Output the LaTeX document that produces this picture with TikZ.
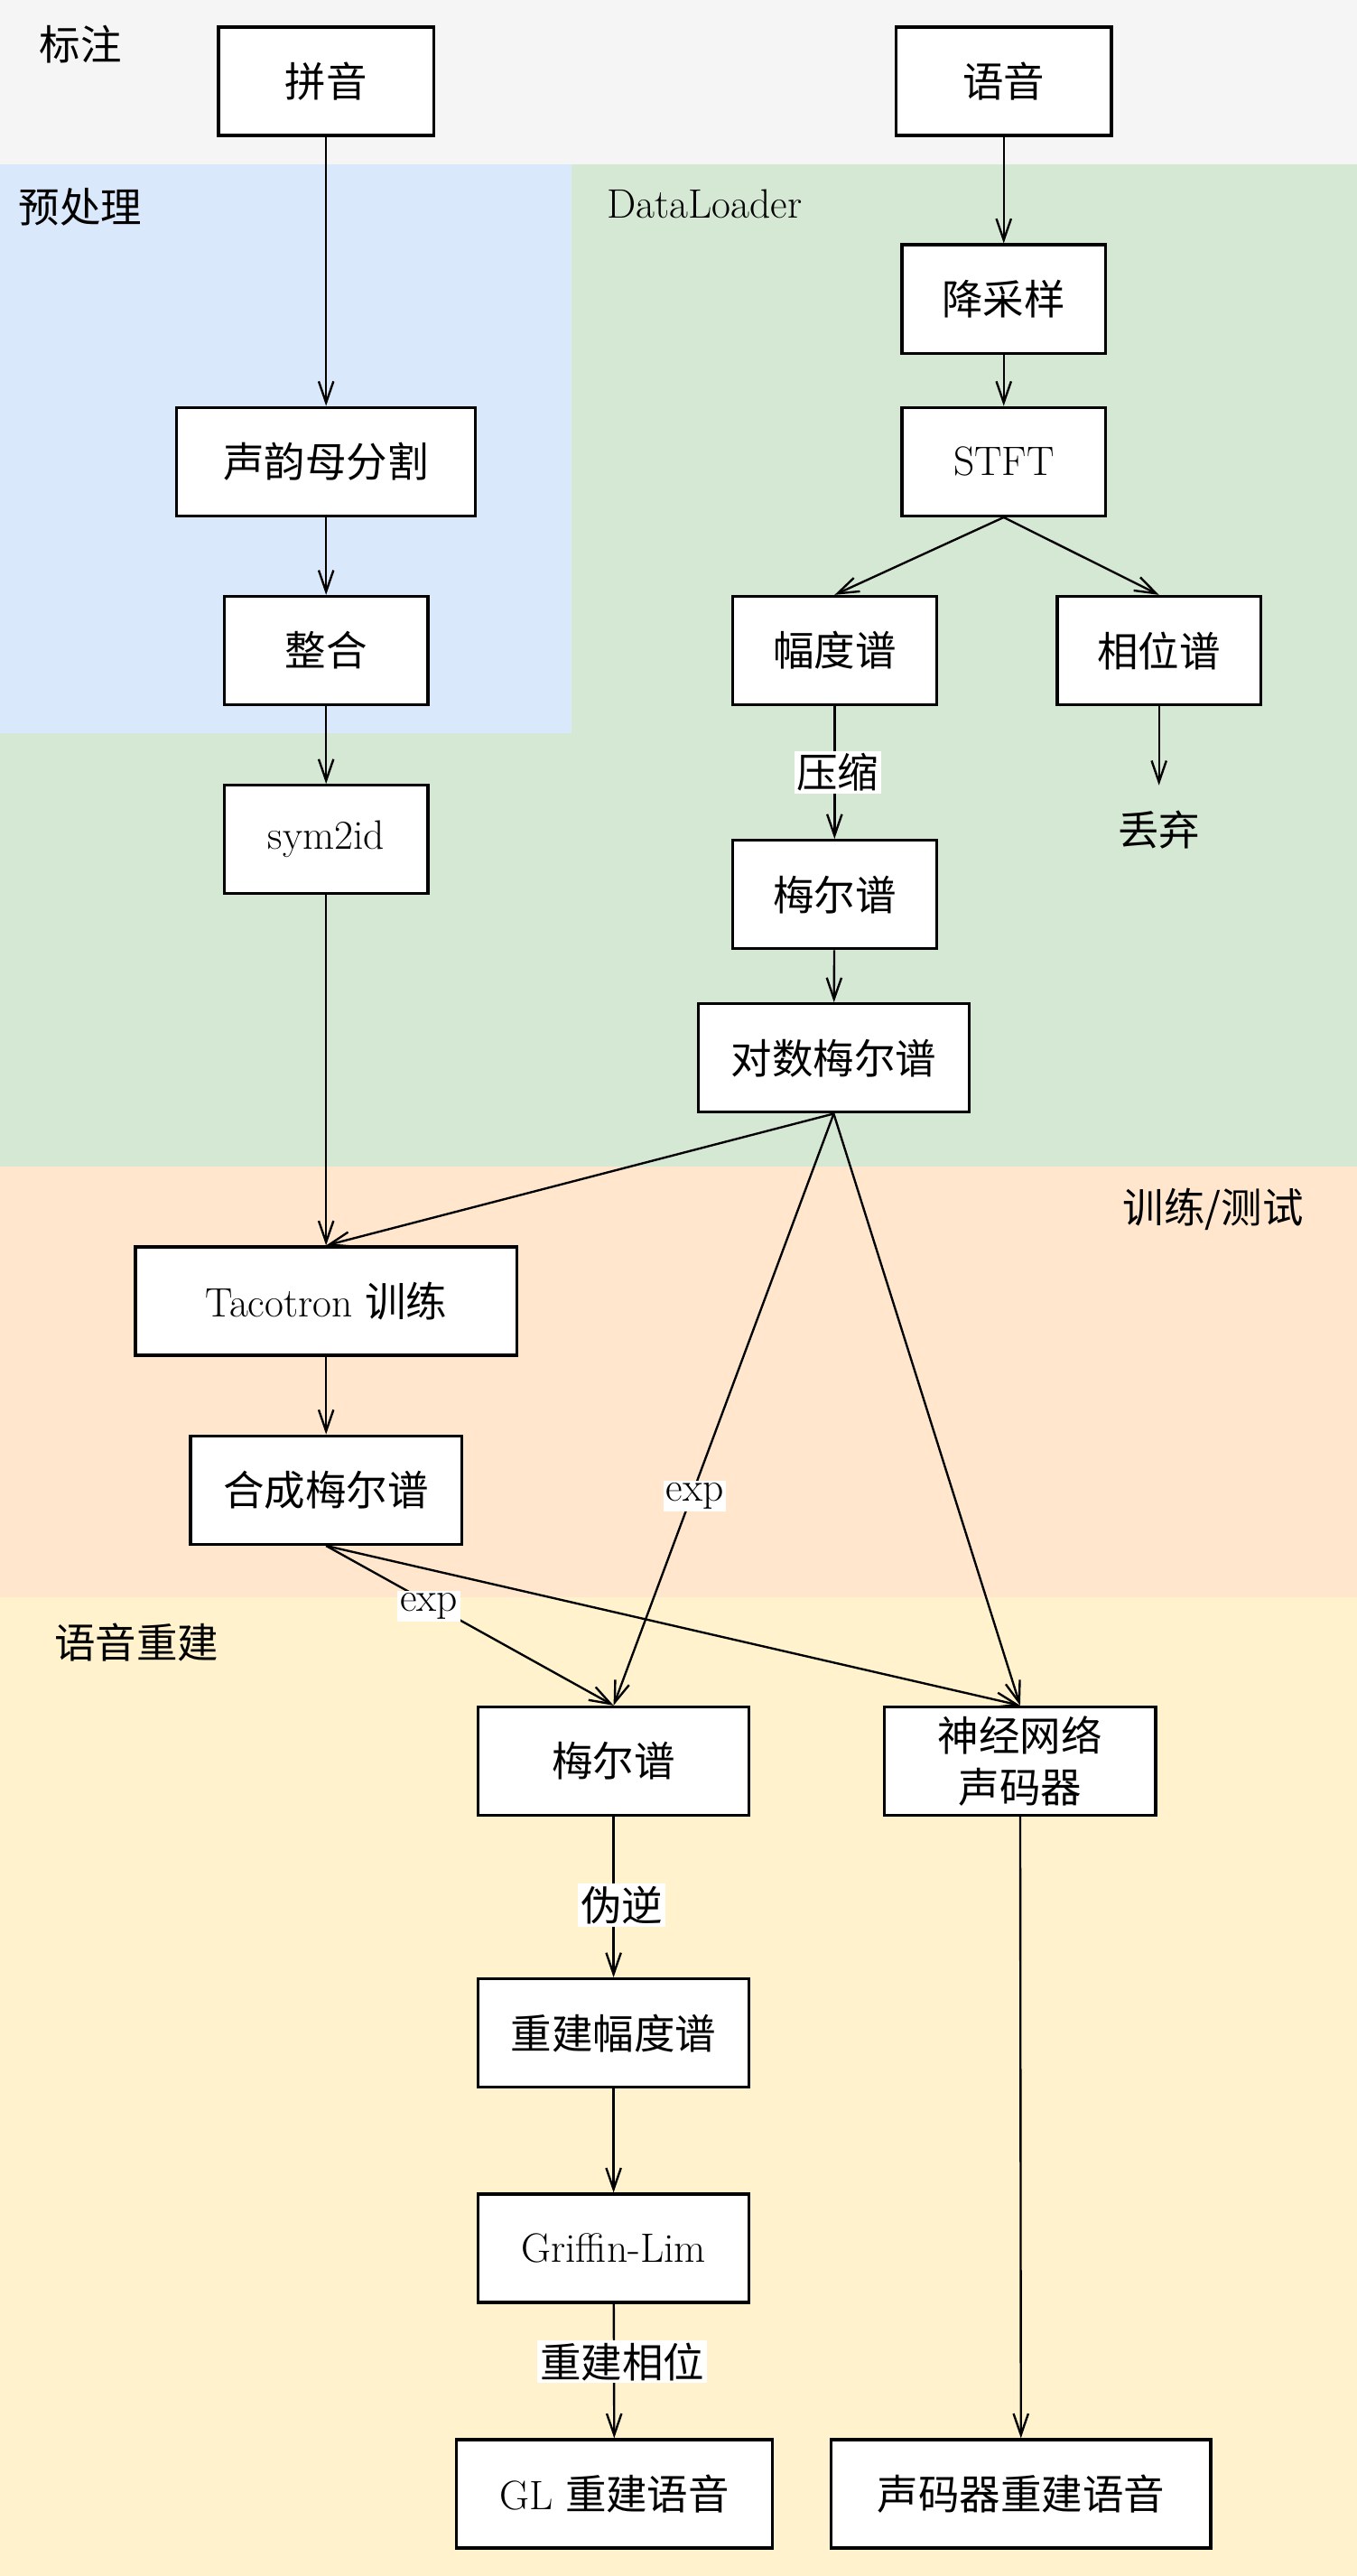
\documentclass[tikz,border=0pt]{standalone}
\usepackage{fontspec}
\newfontfamily\cjk{Noto Sans CJK SC}
\usetikzlibrary{arrows.meta}
\definecolor{bggray}{HTML}{F5F5F5}
\definecolor{bgblue}{HTML}{DAE8FC}
\definecolor{bggreen}{HTML}{D5E8D4}
\definecolor{bgorange}{HTML}{FFE6CC}
\definecolor{bgyellow}{HTML}{FFF2CC}
\begin{document}
\begin{tikzpicture}[x=1pt,y=-1pt,
  box/.style={draw, line width=1.8pt, fill=white, minimum height=66pt, inner sep=0pt, align=center, font=\fontsize{25}{31}\selectfont\cjk},
  latinbox/.style={box, font=\fontsize{25}{31}\selectfont},
  conn/.style={line width=1.3pt, -{Straight Barb[length=13pt,width=9pt,line width=1.3pt]}},
  lab/.style={fill=white, inner sep=1.5pt, font=\fontsize{25}{31}\selectfont\cjk},
  latinlab/.style={lab, font=\fontsize{25}{31}\selectfont},
  region/.style={inner sep=0pt, font=\fontsize{25}{31}\selectfont\cjk},
  latinregion/.style={region, font=\fontsize{25}{31}\selectfont}]
\useasboundingbox (0,0) rectangle (826,1568);
% background bands
\fill[bggray] (0,0) rectangle (826,100);
\fill[bgblue] (0,100) rectangle (348,446);
\fill[bggreen] (348,100) rectangle (826,710);
\fill[bggreen] (0,446) rectangle (348,710);
\fill[bgorange] (0,710) rectangle (826,972);
\fill[bgyellow] (0,972) rectangle (826,1568);
% region labels
\node[region] (rbz) at (49,27) {标注};
\node[region] (ryc) at (49,126) {预处理};
\node[latinregion] (rdl) at (429,124) {DataLoader};
\node[region] (rxl) at (738.5,736) {训练/测试};
\node[region] (rcj) at (83,1000) {语音重建};
% boxes
\node[box, minimum width=131pt] (py) at (198.5,49.5) {拼音};
\node[box, minimum width=131pt] (yy) at (611,49.5) {语音};
\node[box, minimum width=124pt] (jcy) at (611,182) {降采样};
\node[latinbox, minimum width=124pt] (stft) at (611,281) {STFT};
\node[box, minimum width=182pt] (sym) at (198.5,281) {声韵母分割};
\node[box, minimum width=124pt] (zh) at (198.5,396) {整合};
\node[box, minimum width=124pt] (fdp) at (508,396) {幅度谱};
\node[box, minimum width=124pt] (xwp) at (705.5,396) {相位谱};
\node[latinbox, minimum width=124pt] (s2i) at (198.5,511) {sym2id};
\node[box, minimum width=124pt] (mep) at (508,544.5) {梅尔谱};
\node[box, minimum width=165pt] (dmep) at (507.5,644) {对数梅尔谱};
\node[latinbox, minimum width=232pt] (taco) at (198.5,792) {Tacotron {\cjk 训练}};
\node[box, minimum width=165pt] (hcmep) at (198.5,907) {合成梅尔谱};
\node[box, minimum width=165pt] (mep2) at (373.5,1072) {梅尔谱};
\node[box, minimum width=165pt] (voc) at (621,1072) {神经网络\\声码器};
\node[box, minimum width=165pt] (cjfdp) at (373.5,1237.5) {重建幅度谱};
\node[latinbox, minimum width=165pt] (gl) at (373.5,1368.5) {Griffin-Lim};
\node[latinbox, minimum width=192pt] (glv) at (374,1518) {GL {\cjk 重建语音}};
\node[box, minimum width=231pt] (vocv) at (621.5,1518) {声码器重建语音};
\node[region] (dq) at (705.5,505) {丢弃};
\coordinate (dqin) at (705.5,478);
% connectors
\draw[conn] (py) -- (sym);
\draw[conn] (sym) -- (zh);
\draw[conn] (zh) -- (s2i);
\draw[conn] (s2i) -- (taco);
\draw[conn] (yy) -- (jcy);
\draw[conn] (jcy) -- (stft);
\draw[conn] (stft.south) -- (fdp.north);
\draw[conn] (stft.south) -- (xwp.north);
\draw[conn] (xwp) -- (dqin);
\draw[conn] (fdp) -- (mep) node[lab, pos=0.5, xshift=2pt] (lys) {压缩};
\draw[conn] (mep) -- (dmep);
\draw[conn] (dmep.south) -- (taco.north);
\draw[conn] (dmep.south) -- (mep2.north) node[latinlab, pos=0.646, xshift=2pt] (lexp1) {exp};
\draw[conn] (dmep.south) -- (voc.north);
\draw[conn] (taco) -- (hcmep);
\draw[conn] (hcmep.south) -- (mep2.north) node[latinlab, pos=0.38, xshift=-4pt] (lexp2) {exp};
\draw[conn] (hcmep.south) -- (voc.north);
\draw[conn] (mep2) -- (cjfdp) node[lab, pos=0.55, xshift=5pt] (lwn) {伪逆};
\draw[conn] (cjfdp) -- (gl);
\draw[conn] (gl) -- (glv) node[lab, pos=0.43, xshift=5pt] (lcjxw) {重建相位};
\draw[conn] (voc) -- (vocv);
\end{tikzpicture}
\end{document}
